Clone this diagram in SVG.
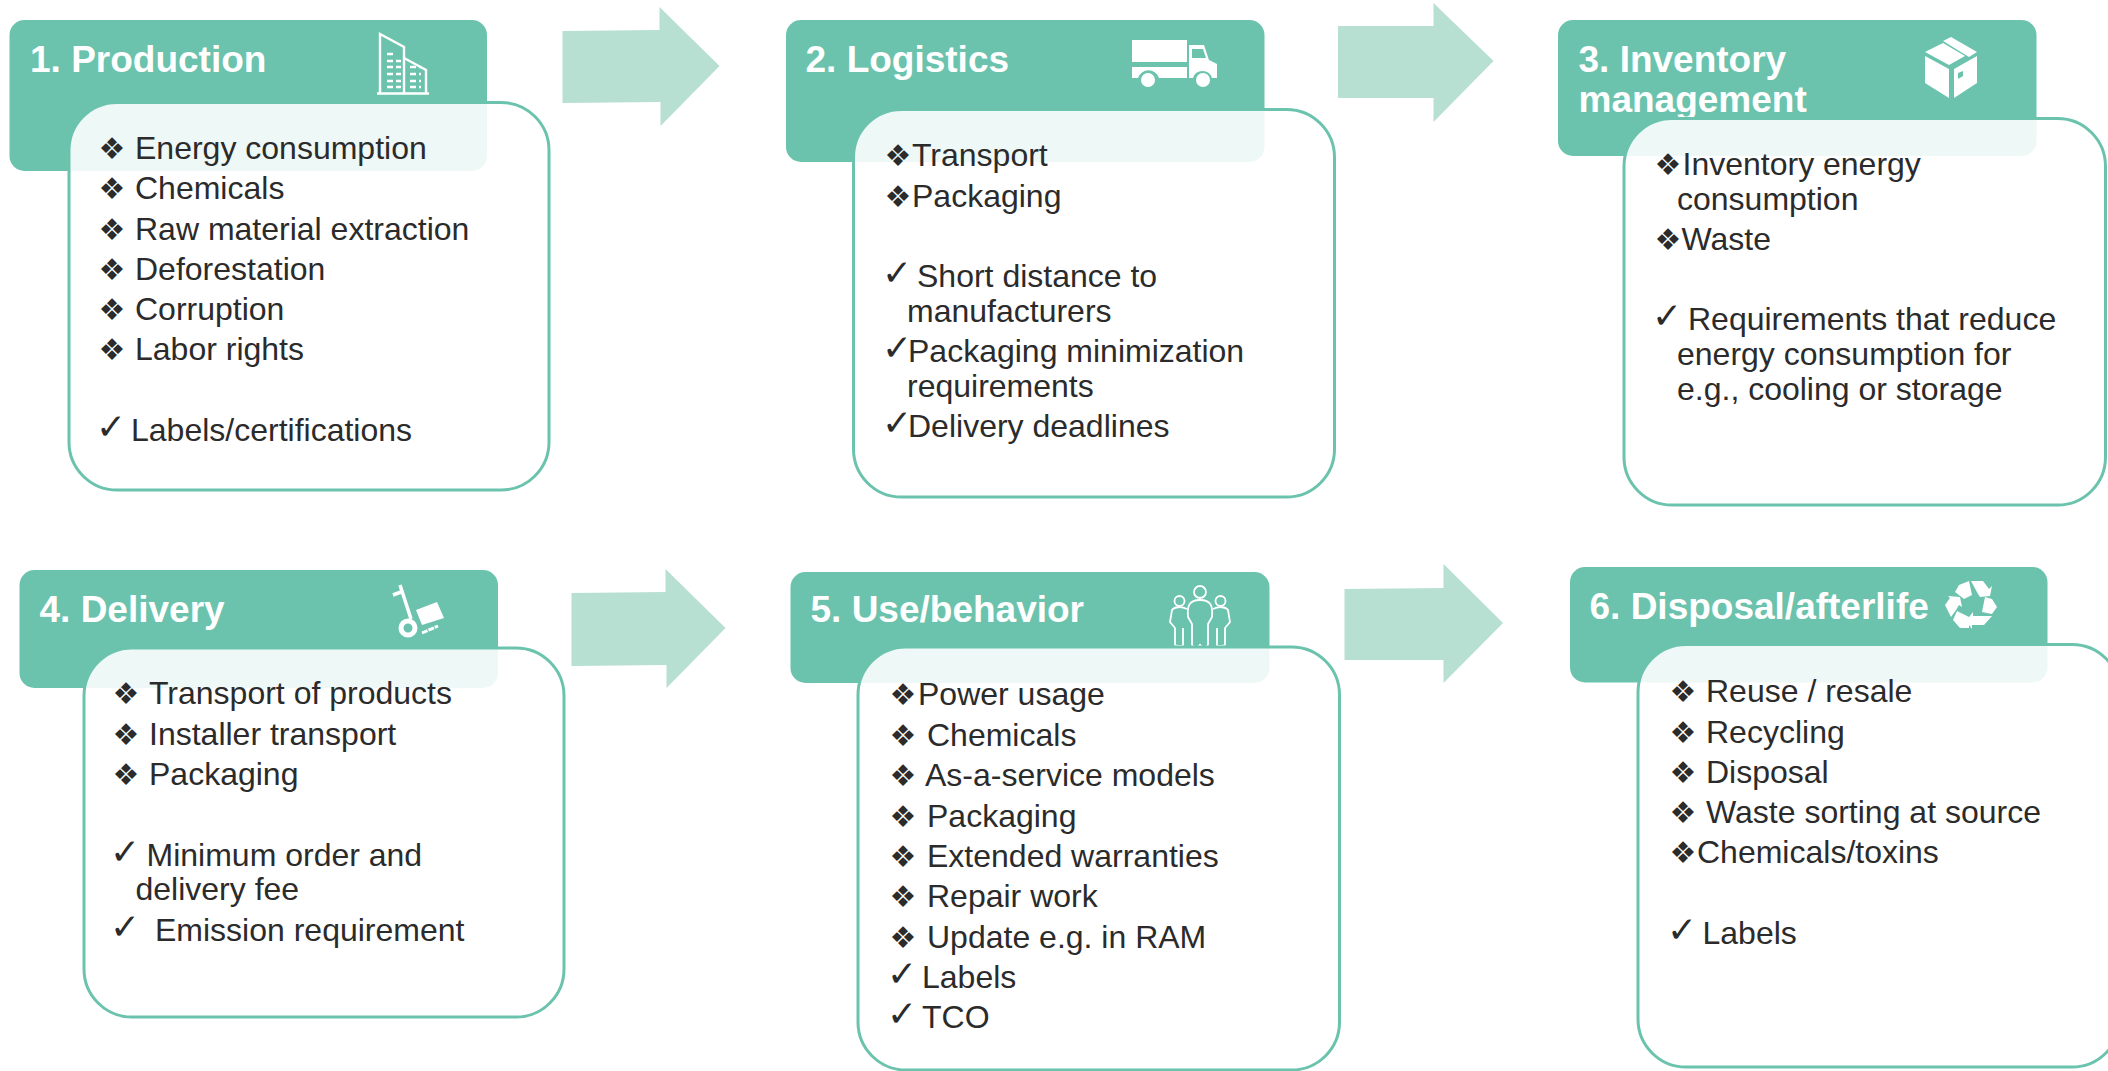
<svg xmlns="http://www.w3.org/2000/svg" width="2108" height="1071" viewBox="0 0 2108 1071">
<style>
.hd{fill:#6bc3ad}
.cd{fill:#fff;fill-opacity:.885;stroke:#6bc3ad;stroke-width:3}
.ar{fill:#b7dfd2}
text{font-family:"Liberation Sans",Arial,sans-serif;font-size:32px;fill:#2b2b2b}
.t{font-weight:bold;font-size:37px;fill:#fff}
.b,.c{font-family:"DejaVu Sans",sans-serif;font-size:30px}
.c{font-size:36px}
.i{fill:#fff;stroke:none}
.l{fill:none;stroke:#fff;stroke-width:2.4}
.d{fill:none;stroke:#fff;stroke-width:2.4;stroke-dasharray:6 3}
</style>
<rect width="2108" height="1071" fill="#fff"/>
<g id="connectors">
<path id="arrow1" class="ar" d="M562.500 31L659.500 30V7L719.500 66L660.500 126V102L562.500 103Z"/>
<path id="arrow2" class="ar" d="M1338 26H1433.500V3L1493.500 61L1433.500 122V98H1338Z"/>
<path id="arrow4" class="ar" d="M571.500 593L665.500 592V569L725.500 628L666.500 688V665L571.500 666Z"/>
<path id="arrow5" class="ar" d="M1344.500 589L1443.500 588V564L1503 623L1443.500 683V660H1344.500Z"/>
</g>
<g id="node1">
<rect class="hd" x="9.500" y="20" width="477.500" height="151" rx="15"/>
<text class="t" x="30" y="71.500">1. Production</text>
<g id="icon1">
<path class="l" d="M380 93V34L404 47V93M404 58L426 70V93M377 93.500H429"/>
<path class="d" d="M387 54H395M387 61H401M387 67H401M387 74H401M387 81H401M387 87H401M410 67H421M410 74H421M410 81H421M410 87H421"/>
</g>
<rect class="cd" x="69" y="102.500" width="480" height="387.500" rx="48"/>
<text class="b" x="98.500" y="159">❖</text><text x="135" y="159">Energy consumption</text>
<text class="b" x="98.500" y="199">❖</text><text x="135" y="199">Chemicals</text>
<text class="b" x="98.500" y="240">❖</text><text x="135" y="240">Raw material extraction</text>
<text class="b" x="98.500" y="280">❖</text><text x="135" y="280">Deforestation</text>
<text class="b" x="98.500" y="320">❖</text><text x="135" y="320">Corruption</text>
<text class="b" x="98.500" y="360">❖</text><text x="135" y="360">Labor rights</text>
<text class="c" x="96" y="439">✓</text><text x="131" y="441">Labels/certifications</text>
</g>
<g id="node2">
<rect class="hd" x="786" y="20" width="478.500" height="142" rx="15"/>
<text class="t" x="805.500" y="71.500">2. Logistics</text>
<g id="icon2">
<path class="i" d="M1132 40H1187V62H1132Z"/>
<path class="i" d="M1132 67H1187V78H1159A11 11 0 0 0 1138 78H1132Z"/>
<circle class="i" cx="1148" cy="80" r="7"/>
<path class="i" fill-rule="evenodd" d="M1189 45H1204L1209 60L1217 64V78H1212A10 10 0 0 0 1193 78H1189ZM1192 49V58H1206L1203 49Z"/>
<circle class="i" cx="1203" cy="80" r="7"/>
</g>
<rect class="cd" x="853.500" y="109.500" width="481" height="387.500" rx="48"/>
<text class="b" x="884.500" y="166">❖</text><text x="912" y="166">Transport</text>
<text class="b" x="884.500" y="207">❖</text><text x="912" y="207">Packaging</text>
<text class="c" x="882" y="285">✓</text><text x="917" y="287">Short distance to</text>
<text x="907" y="322">manufacturers</text>
<text class="c" x="882" y="360">✓</text><text x="908" y="362">Packaging minimization</text>
<text x="907" y="397">requirements</text>
<text class="c" x="882" y="435">✓</text><text x="908" y="437">Delivery deadlines</text>
</g>
<g id="node3">
<rect class="hd" x="1558" y="20" width="478.500" height="136" rx="15"/>
<text class="t" x="1578.500" y="71.500">3. Inventory</text>
<text class="t" x="1578.500" y="111.500">management</text>
<g id="icon3">
<path class="i" d="M1925 52L1943 43L1965 56L1949 65Z"/>
<path class="i" d="M1943 41L1951 37L1977 52L1969 57Z"/>
<path class="i" d="M1925 56L1949 69V98L1925 83Z"/>
<path class="i" fill-rule="evenodd" d="M1954 69L1977 56V83L1954 98ZM1958 73V79L1963 76V71Z"/>
</g>
<rect class="cd" x="1624" y="118.500" width="481.500" height="386.500" rx="48"/>
<text class="b" x="1654.500" y="175">❖</text><text x="1682.500" y="175">Inventory energy</text>
<text x="1677" y="210">consumption</text>
<text class="b" x="1654.500" y="250">❖</text><text x="1681.500" y="250">Waste</text>
<text class="c" x="1652" y="328">✓</text><text x="1688" y="330">Requirements that reduce</text>
<text x="1677" y="365">energy consumption for</text>
<text x="1677" y="400">e.g., cooling or storage</text>
</g>
<g id="node4">
<rect class="hd" x="19.500" y="570" width="478.500" height="118" rx="15"/>
<text class="t" x="39.500" y="621.500">4. Delivery</text>
<g id="icon4">
<path class="l" style="stroke-width:3.500" d="M393 595L401 592M400 585L411 619"/>
<circle class="l" style="stroke-width:5" cx="408" cy="628" r="7"/>
<path class="i" d="M416 610L437 602L444 618L422 625Z"/>
<path class="l" style="stroke-width:3" stroke-dasharray="6 1" d="M422 633L438 626"/>
</g>
<rect class="cd" x="84" y="648" width="480" height="369" rx="48"/>
<text class="b" x="112.500" y="704">❖</text><text x="149" y="704">Transport of products</text>
<text class="b" x="112.500" y="745">❖</text><text x="149" y="745">Installer transport</text>
<text class="b" x="112.500" y="785">❖</text><text x="149" y="785">Packaging</text>
<text class="c" x="110" y="864">✓</text><text x="146.500" y="866">Minimum order and</text>
<text x="135.500" y="900">delivery fee</text>
<text class="c" x="110" y="939">✓</text><text x="155" y="941">Emission requirement</text>
</g>
<g id="node5">
<rect class="hd" x="790.500" y="572" width="479" height="111" rx="15"/>
<text class="t" x="810.500" y="621.500">5. Use/behavior</text>
<g id="icon5">
<g style="stroke-width:1.800" class="l">
<circle cx="1200" cy="592" r="6"/>
<path d="M1200 600C1189 600 1187 606 1188 617L1192 624V644Q1192 647 1196 647Q1200 647 1200 644Q1200 647 1204 647Q1208 647 1208 644V624L1212 617C1213 606 1211 600 1200 600Z"/>
<circle cx="1179.500" cy="601" r="5"/>
<path d="M1187 609C1181 606 1174 607 1172 610L1170 622L1175 628V644Q1175 646 1178 646H1183V628"/>
<circle cx="1220.500" cy="601" r="5"/>
<path d="M1213 609C1219 606 1226 607 1228 610L1230 622L1225 628V644Q1225 646 1222 646H1217V628"/>
</g>
</g>
<rect class="cd" x="858" y="647" width="481.500" height="423" rx="48"/>
<text class="b" x="889.500" y="705">❖</text><text x="918" y="705">Power usage</text>
<text class="b" x="889.500" y="746">❖</text><text x="927" y="746">Chemicals</text>
<text class="b" x="889.500" y="786">❖</text><text x="925" y="786">As-a-service models</text>
<text class="b" x="889.500" y="827">❖</text><text x="927" y="827">Packaging</text>
<text class="b" x="889.500" y="867">❖</text><text x="927" y="867">Extended warranties</text>
<text class="b" x="889.500" y="907">❖</text><text x="927" y="907">Repair work</text>
<text class="b" x="889.500" y="948">❖</text><text x="927" y="948">Update e.g. in RAM</text>
<text class="c" x="887" y="986">✓</text><text x="922" y="988">Labels</text>
<text class="c" x="887" y="1026">✓</text><text x="922" y="1028">TCO</text>
</g>
<g id="node6">
<rect class="hd" x="1570" y="567" width="477.500" height="115.500" rx="15"/>
<text class="t" x="1589.500" y="618.500">6. Disposal/afterlife</text>
<g id="icon6">
<path class="i" d="M1959 585L1969 581L1972 595L1964 599L1955 592Z"/>
<path class="i" d="M1971 581H1983L1989 589L1992 586L1990 596L1980 597L1978 594Z"/>
<path class="i" d="M1985 597L1992 599L1997 607L1992 614L1982 612Z"/>
<path class="i" d="M1992 616L1984 625H1972V629L1966 621L1973 612V616Z"/>
<path class="i" d="M1969 617V628H1960L1953 620L1957 611Z"/>
<path class="i" d="M1951 617L1945 605L1950 598L1948 596L1960 597L1962 607L1959 605L1956 610Z"/>
</g>
<rect class="cd" x="1638" y="644.500" width="482" height="422.500" rx="48"/>
<text class="b" x="1669.500" y="702">❖</text><text x="1706" y="702">Reuse / resale</text>
<text class="b" x="1669.500" y="742.500">❖</text><text x="1706" y="742.500">Recycling</text>
<text class="b" x="1669.500" y="782.500">❖</text><text x="1706" y="782.500">Disposal</text>
<text class="b" x="1669.500" y="823">❖</text><text x="1706" y="823">Waste sorting at source</text>
<text class="b" x="1669.500" y="863">❖</text><text x="1697" y="863">Chemicals/toxins</text>
<text class="c" x="1667" y="942">✓</text><text x="1702.500" y="944">Labels</text>
</g>
</svg>
